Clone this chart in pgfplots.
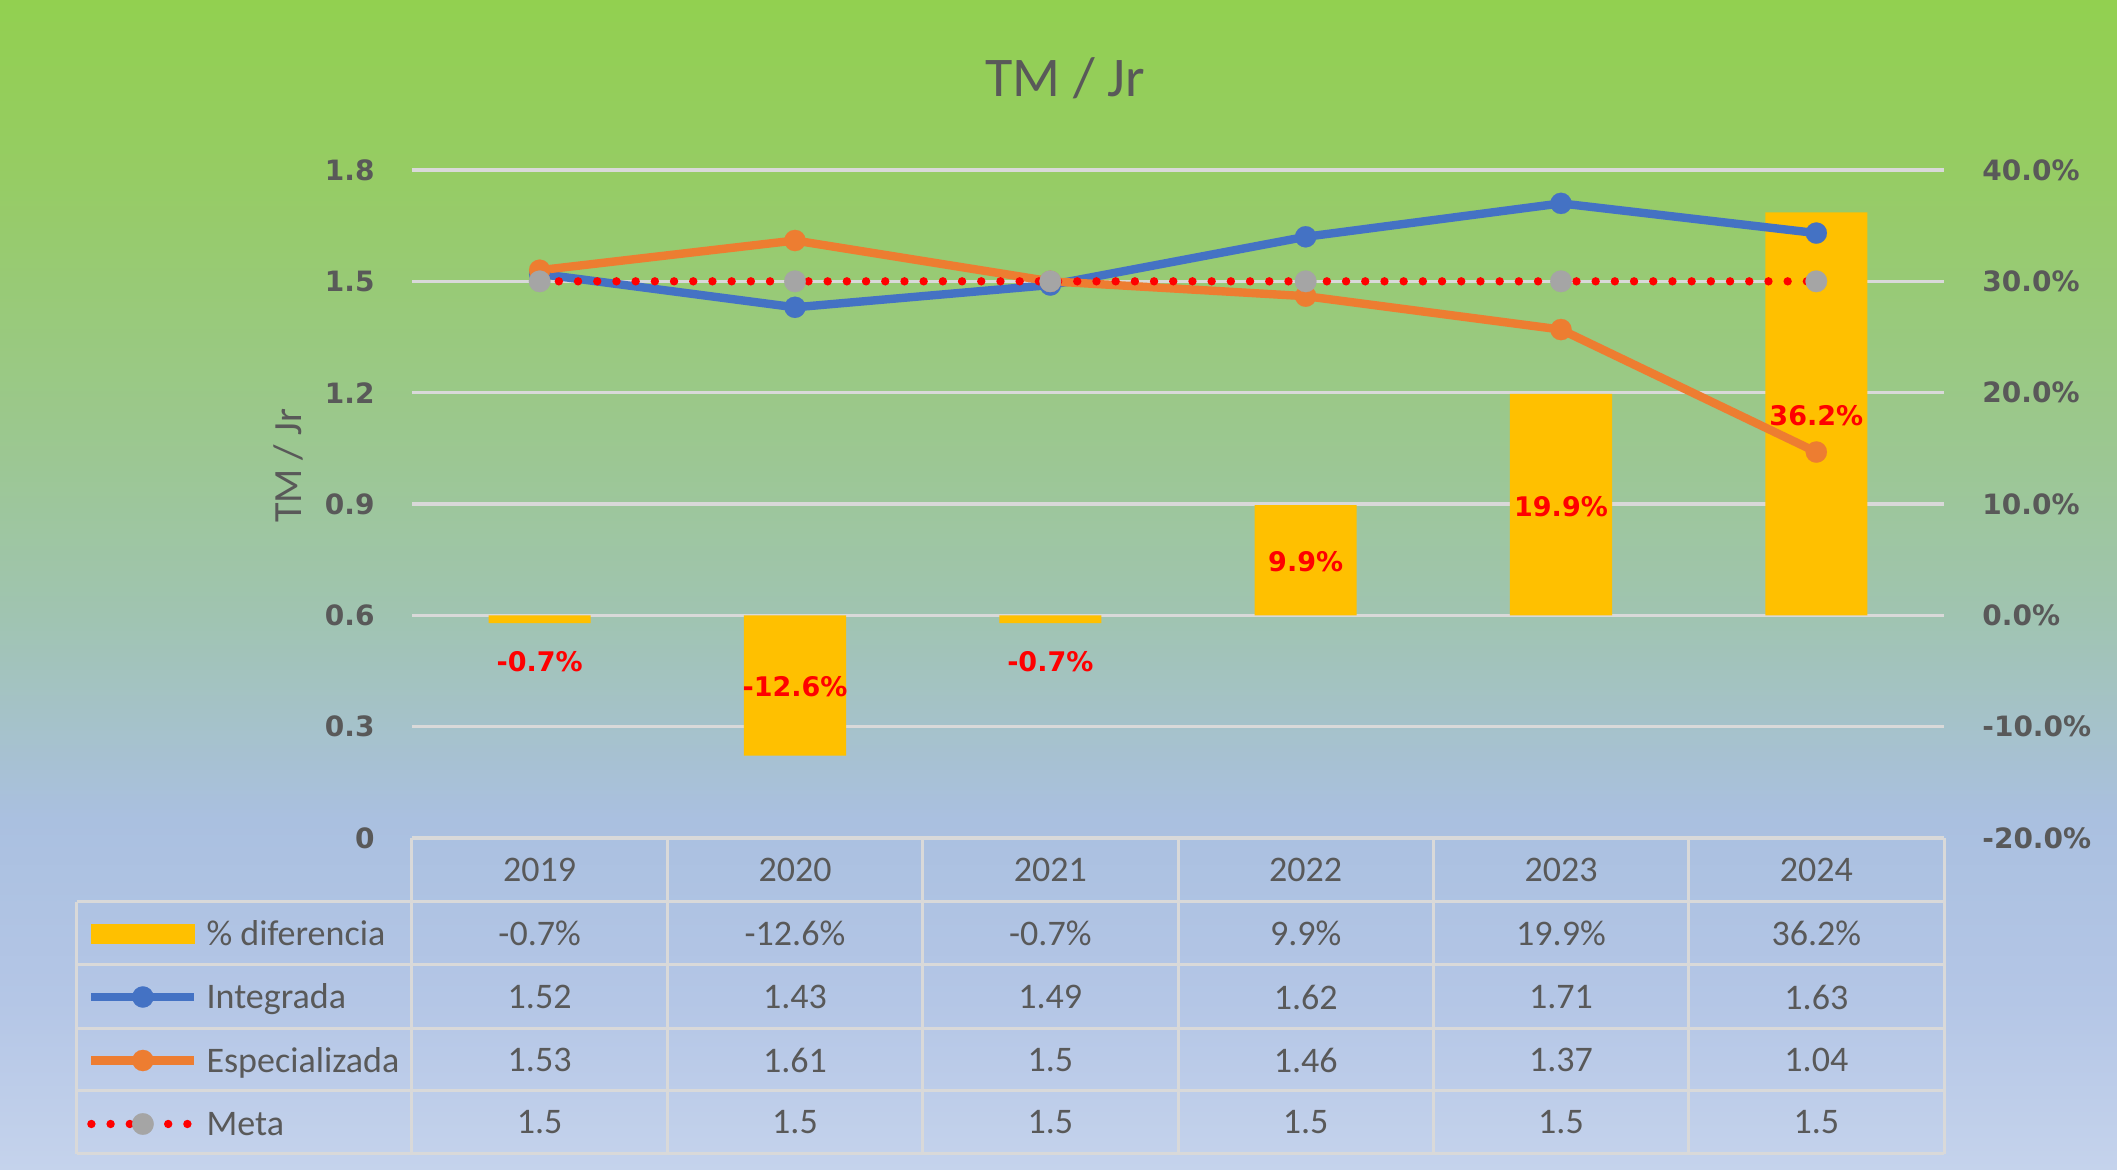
\documentclass[border=0pt]{standalone}
\usepackage{fontspec}
\setmainfont{Carlito}
\newfontfamily\dv{DejaVu Sans}
\usepackage{pgfplots}
\pgfplotsset{compat=1.18}
\definecolor{txt}{HTML}{595959}
\definecolor{gridc}{HTML}{D9D9D9}
\definecolor{gold}{HTML}{FFC000}
\definecolor{cblue}{HTML}{4472C4}
\definecolor{corange}{HTML}{ED7D31}
\definecolor{cgray}{HTML}{A5A5A5}
\definecolor{bg0}{RGB}{197,211,236}
\definecolor{bg1}{RGB}{180,198,230}
\definecolor{bg2}{RGB}{170,192,224}
\definecolor{bg3}{RGB}{160,196,178}
\definecolor{bg4}{RGB}{155,200,140}
\definecolor{bg5}{RGB}{150,204,100}
\definecolor{bg6}{RGB}{146,208,80}
\pgfdeclareverticalshading{bgshade}{100bp}{color(0bp)=(bg0); color(25bp)=(bg0);
  color(32.25bp)=(bg1); color(40bp)=(bg2); color(48.5bp)=(bg3); color(57bp)=(bg4);
  color(67.5bp)=(bg5); color(75bp)=(bg6); color(100bp)=(bg6)}
\pgfplotsset{base/.style={at={(0pt,0pt)}, anchor=south west, scale only axis,
  width=766pt, height=334pt, xmin=-0.5, xmax=5.5, xtick=\empty,
  axis line style={draw=none}, major tick length=0pt, clip=false}}
\begin{document}
\begin{tikzpicture}
\path[use as bounding box] (-206pt,-166pt) rectangle (852.5pt,419pt);
\shade[shading=bgshade] (-206pt,-166pt) rectangle (852.5pt,419pt);

% Axis A: left scale and grid
\begin{axis}[base, ymin=0, ymax=1.8,
  ytick={0,0.3,0.6,0.9,1.2,1.5,1.8},
  yticklabels={0,0.3,0.6,0.9,1.2,1.5,1.8},
  ymajorgrids, grid style={gridc, line width=1.75pt},
  yticklabel style={font=\dv\bfseries\fontsize{14}{16}\selectfont, text=txt, inner sep=0pt, anchor=east, xshift=-18.5pt}]
\addplot[draw=none] coordinates {(0,0)};
\end{axis}

% Axis B: percent bars, right scale
\begin{axis}[base, ymin=-20, ymax=40, axis y line*=right,
  ytick={-20,-10,0,10,20,30,40},
  yticklabels={-20.0\%,-10.0\%,0.0\%,10.0\%,20.0\%,30.0\%,40.0\%},
  yticklabel style={font=\dv\bfseries\fontsize{14}{16}\selectfont, text=txt, inner sep=0pt, anchor=west, xshift=19pt}]
\addplot[ybar, bar width=0.4, fill=gold, draw=none]
  coordinates {(0,-0.7) (1,-12.6) (2,-0.7) (3,9.9) (4,19.9) (5,36.2)};
\addplot[draw=none, mark=none, nodes near coords, point meta=explicit symbolic,
  every node near coord/.append style={anchor=center, inner sep=0pt, text=red,
  font=\dv\bfseries\fontsize{13.5}{15}\selectfont}]
  coordinates {(0,-4.15)[{-0.7\%}] (1,-6.4)[{-12.6\%}] (2,-4.15)[{-0.7\%}]
   (3,4.8)[{9.9\%}] (4,9.8)[{19.9\%}] (5,17.9)[{36.2\%}]};
\end{axis}

% Axis C: lines and legend
\begin{axis}[base, ymin=0, ymax=1.8, hide axis,
  legend image code/.code={\draw[mark repeat=2,mark phase=2,#1] plot coordinates {(0pt,0pt) (25.75pt,0pt) (51.5pt,0pt)};},
  legend cell align=left,
  legend style={at={(-0.2120,-0.1256)}, anchor=north west, draw=none, fill=none,
    inner sep=0pt, outer sep=0pt, row sep=20.15pt, column sep=4pt,
    nodes={inner sep=0pt, text height=11.6pt, text depth=0pt, text=txt,
      font=\fontsize{18}{20}\selectfont}}]
\addlegendimage{legend image code/.code={\fill[gold] (0pt,-4.75pt) rectangle (51.5pt,4.75pt);}}
\addlegendentry{\% diferencia}
\addplot[cblue, line width=4.2pt, mark=*, mark size=5.3pt, mark options={solid, fill=cblue, draw=cblue, line width=0.1pt}]
  coordinates {(0,1.52) (1,1.43) (2,1.49) (3,1.62) (4,1.71) (5,1.63)};
\addlegendentry{Integrada}
\addplot[corange, line width=4.2pt, mark=*, mark size=5.3pt, mark options={solid, fill=corange, draw=corange, line width=0.1pt}]
  coordinates {(0,1.53) (1,1.61) (2,1.5) (3,1.46) (4,1.37) (5,1.04)};
\addlegendentry{Especializada}
\addplot[red, line width=4.2pt, dash pattern=on 0pt off 9.6pt, line cap=round, mark=*, mark size=5.4pt, mark options={solid, fill=cgray, draw=cgray, line width=0.1pt}]
  coordinates {(0,1.5) (1,1.5) (2,1.5) (3,1.5) (4,1.5) (5,1.5)};
\addlegendentry{Meta}
\end{axis}

% Data table
\begin{scope}[gridc, line width=1.5pt]
\draw (0pt,0pt) -- (766pt,0pt);
\foreach \y in {-32,-63.5,-95.5,-126.5,-158} \draw (-167.5pt,\y pt) -- (766pt,\y pt);
\foreach \i in {0,...,6} \draw (\i*127.667pt,0pt) -- (\i*127.667pt,-158pt);
\draw (-167.5pt,-32pt) -- (-167.5pt,-158pt);
\end{scope}
\begin{scope}[every node/.style={font=\fontsize{18}{20}\selectfont, text=txt, inner sep=0pt}]
\foreach \t [count=\i from 0] in {2019,2020,2021,2022,2023,2024}
  \node at (\i*127.667pt+63.83pt,-16pt) {\t};
\foreach \t [count=\i from 0] in {-0.7\%,-12.6\%,-0.7\%,9.9\%,19.9\%,36.2\%}
  \node at (\i*127.667pt+63.83pt,-47.75pt) {\t};
\foreach \t [count=\i from 0] in {1.52,1.43,1.49,1.62,1.71,1.63}
  \node at (\i*127.667pt+63.83pt,-79.5pt) {\t};
\foreach \t [count=\i from 0] in {1.53,1.61,1.5,1.46,1.37,1.04}
  \node at (\i*127.667pt+63.83pt,-111pt) {\t};
\foreach \t [count=\i from 0] in {1.5,1.5,1.5,1.5,1.5,1.5}
  \node at (\i*127.667pt+63.83pt,-142.25pt) {\t};
\end{scope}

% Titles
\node[font=\fontsize{28}{32}\selectfont, text=txt] at (326.5pt,380pt) {TM / Jr};
\node[rotate=90, font=\fontsize{20}{24}\selectfont, text=txt] at (-62pt,186pt) {TM / Jr};
\end{tikzpicture}
\end{document}
